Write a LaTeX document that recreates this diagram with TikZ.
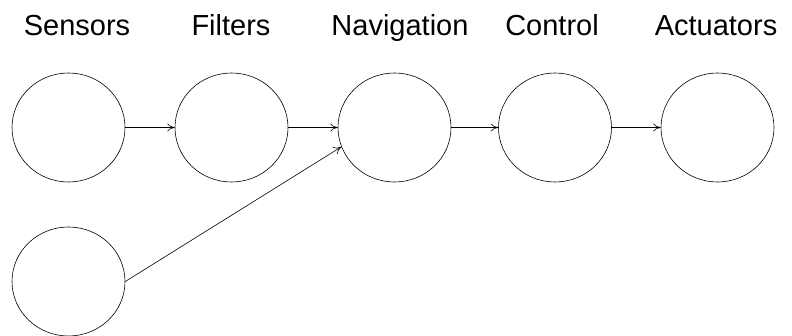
\documentclass[tikz,border=0pt]{standalone}
\usepackage{fontspec}
\setmainfont{Liberation Sans}
\usetikzlibrary{shapes.geometric,arrows.meta}
\begin{document}
\begin{tikzpicture}[x=1pt,y=1pt,
  blob/.style={draw, ellipse, minimum width=113pt, minimum height=109pt, inner sep=0pt, line width=0.6pt},
  lbl/.style={anchor=base, font=\fontsize{29}{29}\selectfont},
  link/.style={-{To[length=7.5pt,width=8pt]}, line width=0.6pt}]
\useasboundingbox (0,0) rectangle (792,335);
\node[blob] (sen) at (68.5,207.5) {};
\node[blob] (fil) at (231.5,207.5) {};
\node[blob] (nav) at (394.5,207.5) {};
\node[blob] (con) at (555,207.5) {};
\node[blob] (act) at (717.5,207.5) {};
\node[blob] (bot) at (68.5,53.5) {};
\node[lbl] (lsen) at (77,299) {Sensors};
\node[lbl] (lfil) at (231,299) {Filters};
\node[lbl] (lnav) at (400,299) {Navigation};
\node[lbl] (lcon) at (552,299) {Control};
\node[lbl] (lact) at (716,299) {Actuators};
\draw[link] (sen.east) -- (fil.west);
\draw[link] (fil.east) -- (nav.west);
\draw[link] (nav.east) -- (con.west);
\draw[link] (con.east) -- (act.west);
\draw[link] (bot.east) -- (nav.200);
\end{tikzpicture}
\end{document}
